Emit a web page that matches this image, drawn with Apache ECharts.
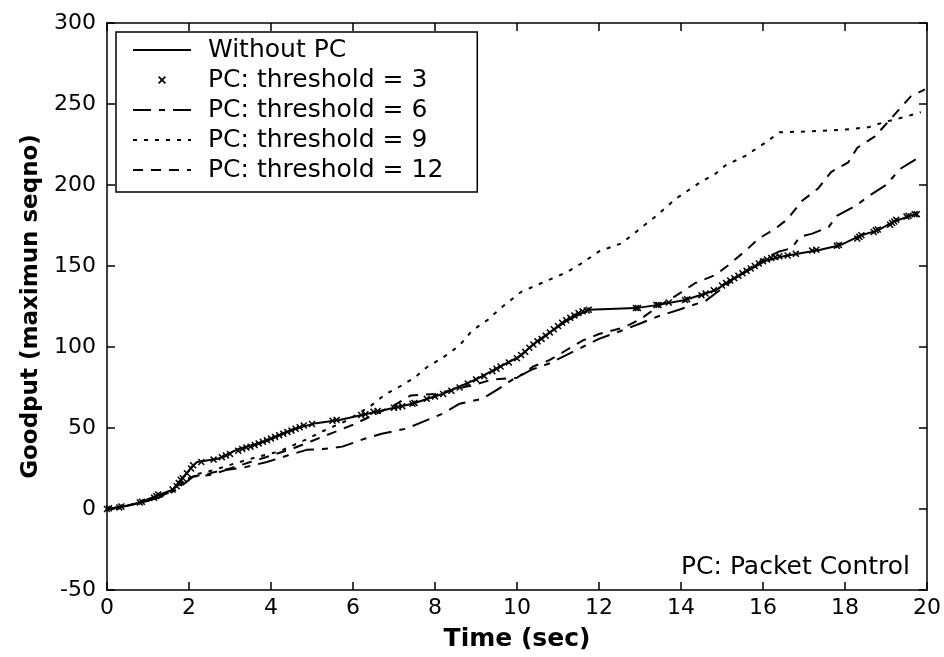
<!DOCTYPE html>
<html>
<head>
<meta charset="utf-8">
<script src="https://cdn.jsdelivr.net/npm/echarts@6/dist/echarts.min.js"></script>
<style>
html,body{margin:0;padding:0;background:#fff;}
#chart{width:944px;height:657px;}
</style>
</head>
<body>
<div id="chart"></div>
<script>
// ---- data (time in sec, goodput in max seqno) ----
const seriesNames = ['Without PC', 'PC: threshold = 3', 'PC: threshold = 6', 'PC: threshold = 9', 'PC: threshold = 12'];
const xTicks = [0, 2, 4, 6, 8, 10, 12, 14, 16, 18, 20];
const yTicks = [-50, 0, 50, 100, 150, 200, 250, 300];

const withoutPC = [[0,0],[0.3,1],[0.8,4],[1.2,8],[1.6,12],[1.8,18],[2.07,26],[2.2,29],[2.7,31],[3.2,37],[3.9,42],[4.5,49],[5.1,53],[5.67,55],[6.57,60],[7.45,65],[8.18,71],[9.0,80],[9.56,87.5],[10.05,94],[10.46,103],[11.2,116],[11.75,123],[12.9,124],[13.45,126],[14.1,129],[14.84,135],[15.2,141],[16.05,153],[16.5,156],[17.4,160],[17.9,163],[18.4,169],[18.8,172],[19.2,177.5],[19.7,182]];

const thr3 = [[0,0],[0.05,0.5],[0.3,1],[0.35,1.5],[0.8,4],[0.85,4.5],[1.15,7],[1.2,8],[1.25,9],[1.6,12],[1.7,14],[1.75,16],[1.8,18],[1.85,19],[1.95,22],[2.05,25],[2.1,27],[2.3,29],[2.6,30.5],[2.8,32],[2.9,33],[3.0,34],[3.2,36],[3.3,37],[3.4,38],[3.5,38.5],[3.6,39.5],[3.7,40.5],[3.8,41.5],[3.9,42.5],[4.0,43.5],[4.1,44.5],[4.2,45.5],[4.3,46.5],[4.4,47.5],[4.5,48.5],[4.6,49.5],[4.7,50.5],[4.8,51.5],[5.0,52.5],[5.5,54.5],[5.6,55],[6.2,58],[6.3,58.5],[6.5,60],[6.6,60.5],[7.0,62.5],[7.1,63],[7.2,63.5],[7.45,65],[7.5,65.5],[7.8,68],[8.0,69.5],[8.2,71],[8.4,73],[8.6,75],[8.8,77.5],[9.0,80],[9.2,82],[9.4,85],[9.5,86.5],[9.6,88],[9.8,90.5],[10.0,93],[10.1,95],[10.2,97],[10.3,99.5],[10.4,101.5],[10.5,103.5],[10.6,105],[10.7,107],[10.8,109],[10.9,111],[11.0,113],[11.1,115],[11.2,116.5],[11.3,118],[11.4,119.5],[11.5,121],[11.6,122],[11.7,122.5],[11.75,123],[12.9,124],[12.95,124],[13.4,126],[13.45,126],[13.7,127.5],[14.1,129],[14.15,129.5],[14.5,132],[14.6,133],[14.8,135],[15.0,138],[15.1,139.5],[15.2,141],[15.3,142.5],[15.4,144],[15.5,145.5],[15.6,147],[15.7,148.5],[15.8,150],[15.9,151.5],[16.0,153],[16.1,154],[16.2,155],[16.3,155.5],[16.4,156],[16.6,156.5],[16.8,157.5],[17.2,159.5],[17.3,160],[17.8,162.5],[17.85,163],[18.3,167],[18.35,168],[18.4,169],[18.7,171],[18.75,172],[18.8,172.5],[19.1,175.5],[19.15,176.5],[19.2,177.5],[19.25,178.5],[19.5,180.5],[19.55,181],[19.7,182],[19.75,182]];

const thr6 = [[0,0],[0.5,2],[1,5],[1.5,9],[1.8,14],[2.1,20],[2.5,21],[2.9,24],[3.4,26],[3.9,29],[4.4,33],[4.87,36.5],[5.26,37],[5.74,38.5],[6.3,43.5],[6.7,46.5],[7.3,49.6],[7.7,53.8],[8.18,58.8],[8.6,65],[9.15,68],[9.5,73.4],[9.9,80],[10.36,86],[10.8,90],[11.2,95],[11.6,100],[12,105],[12.65,111],[13.05,115],[13.45,119],[13.95,123],[14.6,128.5],[15.2,140],[15.7,149],[16.0,154],[16.4,159],[16.7,161],[16.9,168],[17.2,170],[17.6,174],[17.8,181],[18.25,187],[18.6,193.5],[19.0,200],[19.35,210],[19.8,217]];

const thr9 = [[0,0],[0.5,2],[1,5],[1.5,10],[1.8,15],[2.1,21],[2.6,24],[3.1,28],[3.65,32],[4.2,35.5],[4.87,43],[5.26,48],[5.8,54],[6.4,63],[6.8,71],[7.1,75],[7.5,81],[7.8,87.5],[8.2,93.6],[8.6,101],[8.9,110],[9.3,117],[9.6,124],[10.1,134],[10.6,139.5],[11.2,146],[11.6,152],[12,159],[12.55,164],[12.9,171],[13.4,181],[13.87,191.5],[14.43,201],[14.84,207],[15.08,212],[15.57,218],[16.05,226],[16.4,232.5],[17,233],[17.9,234],[18.56,235.6],[18.98,239],[19.46,242],[19.85,245]];

const thr12 = [[0,0],[0.5,2],[1,5],[1.5,10],[1.8,16],[2.1,20],[2.5,22],[3,25],[3.5,29],[4,33],[4.5,37],[5,42],[5.5,47],[6,52],[6.5,58],[7,64],[7.4,70],[7.7,70.5],[8,71],[8.5,74],[9,77],[9.4,80],[10,81],[10.4,88],[10.8,92],[11.2,98],[11.6,104],[12,108],[12.6,112],[13,117],[13.5,126],[13.9,132],[14.35,139.5],[14.84,144.5],[15.16,150.6],[15.6,160],[15.9,167],[16.3,173],[16.6,179],[16.94,190],[17.35,198],[17.66,208],[18.08,214],[18.3,223],[18.73,230],[19.05,239],[19.6,254.6],[19.95,259]];

// ---- chart ----
const FONT = 'DejaVu Sans';
const xMark = 'path://M0,1.5L1.5,0L5,3.5L8.5,0L10,1.5L6.5,5L10,8.5L8.5,10L5,6.5L1.5,10L0,8.5L3.5,5Z';
const axisLine = {show: true, onZero: false, lineStyle: {color: '#000', width: 1.5}};
const tick = {show: true, inside: true, length: 8, lineStyle: {color: '#000', width: 1.5}};
const hideSym = {opacity: 0};

const chart = echarts.init(document.getElementById('chart'), null, {renderer: 'canvas'});
chart.setOption({
  animation: false,
  backgroundColor: '#fff',
  grid: {left: 107, top: 23, right: 15, bottom: 63, containLabel: false},
  xAxis: [
    {type: 'value', position: 'bottom', min: xTicks[0], max: xTicks[xTicks.length - 1], interval: 2,
     axisLine: axisLine, axisTick: tick, splitLine: {show: false},
     axisLabel: {color: '#000', fontFamily: FONT, fontSize: 22, margin: 7},
     name: 'Time (sec)', nameLocation: 'middle', nameGap: 37,
     nameTextStyle: {color: '#000', fontFamily: FONT, fontSize: 25, fontWeight: 'bold'}},
    {type: 'value', position: 'top', min: xTicks[0], max: xTicks[xTicks.length - 1], interval: 2,
     axisLine: axisLine, axisTick: tick, splitLine: {show: false}, axisLabel: {show: false}}
  ],
  yAxis: [
    {type: 'value', position: 'left', min: yTicks[0], max: yTicks[yTicks.length - 1], interval: 50,
     axisLine: axisLine, axisTick: tick, splitLine: {show: false},
     axisLabel: {color: '#000', fontFamily: FONT, fontSize: 22, margin: 11},
     name: 'Goodput (maximun seqno)', nameLocation: 'middle', nameGap: 64, nameRotate: 90,
     nameTextStyle: {color: '#000', fontFamily: FONT, fontSize: 23, fontWeight: 'bold'}},
    {type: 'value', position: 'right', min: yTicks[0], max: yTicks[yTicks.length - 1], interval: 50,
     axisLine: axisLine, axisTick: tick, splitLine: {show: false}, axisLabel: {show: false}}
  ],
  legend: {
    orient: 'vertical', left: 116, top: 32,
    padding: [3, 34, 7, 16], itemGap: 0, itemWidth: 58, itemHeight: 10,
    backgroundColor: '#fff', borderColor: '#000', borderWidth: 1.5, borderRadius: 0,
    textStyle: {color: '#000', fontFamily: FONT, fontSize: 25, lineHeight: 30, padding: [0, 0, 0, 12]},
    data: [
      {name: seriesNames[0], itemStyle: hideSym},
      {name: seriesNames[1]},
      {name: seriesNames[2], itemStyle: hideSym},
      {name: seriesNames[3], itemStyle: hideSym},
      {name: seriesNames[4], itemStyle: hideSym}
    ]
  },
  graphic: [{
    type: 'text', right: 34, top: 555,
    style: {text: 'PC: Packet Control', fill: '#000', font: '25px "DejaVu Sans"'}
  }],
  series: [
    {name: seriesNames[0], type: 'line', data: withoutPC, symbol: 'none', z: 2,
     lineStyle: {color: '#000', width: 2, type: 'solid'}, itemStyle: {color: '#000'}},
    {name: seriesNames[1], type: 'line', data: thr3, symbol: xMark, symbolSize: 7, showSymbol: true, z: 3,
     lineStyle: {color: 'rgba(0,0,0,0)', width: 0}, itemStyle: {color: '#000'}},
    {name: seriesNames[2], type: 'line', data: thr6, symbol: 'none', z: 2,
     lineStyle: {color: '#000', width: 2, type: [18, 8, 6, 8]}, itemStyle: {color: '#000'}},
    {name: seriesNames[3], type: 'line', data: thr9, symbol: 'none', z: 2,
     lineStyle: {color: '#000', width: 2, type: [4, 7]}, itemStyle: {color: '#000'}},
    {name: seriesNames[4], type: 'line', data: thr12, symbol: 'none', z: 2,
     lineStyle: {color: '#000', width: 2, type: [10, 8]}, itemStyle: {color: '#000'}}
  ]
});
</script>
</body>
</html>
